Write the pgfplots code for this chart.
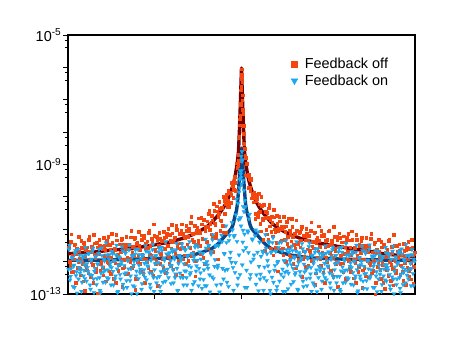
\documentclass[border=0pt]{standalone}
\usepackage{pgfplots}
\pgfplotsset{compat=1.18}
\usepackage{pgfplotstable}
\usepackage{fontspec}
\setmainfont{Liberation Sans}

\definecolor{offpt}{HTML}{F4470F}
\definecolor{onpt}{HTML}{1BA8EE}
\definecolor{offfit}{HTML}{780000}
\definecolor{onfit}{HTML}{0A4888}

% d = offset from the resonance, r = feedback off, b = feedback on
\pgfplotstableread{
d r b
-173 2.8e-12 5.8e-13
-172 9.8e-13 3.2e-12
-171 4.2e-12 3.5e-13
-170 4.7e-13 9.8e-14
-169 1.6e-12 1.3e-12
-168 1.2e-12 7.2e-13
-167 3.5e-12 1.6e-13
-166 2.2e-13 2.2e-12
-165 2.5e-12 4.9e-13
-164 6.6e-13 1.05e-12
-163 5.9e-12 2.9e-13
-162 1.26e-12 1.6e-12
-161 3.8e-13 5.5e-13
-160 2.75e-12 1.2e-13
-159 8.9e-13 1.3e-12
-158 3.9e-12 3.6e-13
-157 1.3e-13 7.9e-13
-156 2.3e-12 2.75e-12
-155 5.5e-13 2.5e-13
-154 2.1e-12 6.6e-13
-153 4.8e-12 1.8e-12
-152 1.2e-12 4.0e-13
-151 3.4e-13 1.4e-13
-150 2.9e-12 1.2e-12
-149 8.1e-13 2.1e-12
-148 6.9e-12 2.9e-13
-147 1.7e-12 5.0e-13
-146 4.8e-13 1.4e-12
-145 3.9e-12 1.95e-13
-144 1.07e-13 8.3e-13
-143 1.8e-12 1.8e-12
-142 3.2e-12 3.2e-13
-141 8.7e-13 1.1e-13
-140 2.9e-12 2.6e-12
-139 6.6e-13 6.9e-13
-138 5.4e-12 4.8e-13
-137 1.5e-12 1.05e-12
-136 2.5e-13 2.3e-13
-135 4.5e-12 1.6e-12
-134 1.5e-12 5.5e-13
-133 9.1e-13 3.0e-13
-132 3.3e-12 1.66e-12
-131 4.3e-13 9.1e-13
-130 7.4e-12 6.5e-13
-129 2.0e-12 1.74e-12
-128 1.1e-12 1.9e-13
-127 2.4e-12 1.05e-12
-126 2.3e-13 3.6e-13
-125 4.6e-12 3.2e-12
-124 1.5e-12 1.1e-13
-123 8.1e-13 7.6e-13
-122 3.5e-12 1.3e-12
-121 1.95e-12 2.9e-13
-120 5.2e-12 1.02e-12
-119 6.3e-13 2.2e-12
-118 1.15e-12 1.5e-13
-117 2.95e-12 4.2e-13
-116 4.1e-13 1.8e-12
-115 3.5e-12 2.6e-13
-114 2.45e-12 1.1e-12
-113 3.3e-12 6.0e-13
-112 1.26e-12 3.3e-12
-111 5.75e-12 3.6e-13
-110 6.6e-13 1.02e-13
-109 2.9e-12 1.4e-12
-108 1.55e-12 7.6e-13
-107 5.5e-12 1.66e-13
-106 2.95e-13 2.3e-12
-105 3.55e-12 5.1e-13
-104 1.02e-12 1.1e-12
-103 8.3e-12 3.0e-13
-102 2.3e-12 1.66e-12
-101 4.9e-13 5.8e-13
-100 4.9e-12 1.4e-13
-99 1.3e-12 1.5e-12
-98 6.3e-12 4.1e-13
-97 2.3e-13 8.9e-13
-96 3.7e-12 3.1e-12
-95 1.02e-12 2.75e-13
-94 2.75e-12 7.4e-13
-93 7.8e-12 2.0e-12
-92 1.66e-12 4.5e-13
-91 5.0e-13 1.55e-13
-90 5.1e-12 1.4e-12
-89 1.3e-12 2.35e-12
-88 1.45e-11 3.2e-13
-87 2.45e-12 5.6e-13
-86 8.7e-13 1.55e-12
-85 5.9e-12 2.2e-13
-84 1.8e-13 9.3e-13
-83 3.2e-12 2.0e-12
-82 5.2e-12 3.5e-13
-81 1.8e-12 1.2e-13
-80 4.4e-12 2.75e-12
-79 1.2e-12 7.4e-13
-78 8.3e-12 5.1e-13
-77 2.5e-12 1.1e-12
-76 4.6e-13 2.5e-13
-75 7.4e-12 1.74e-12
-74 3.2e-12 5.9e-13
-73 1.4e-12 3.2e-13
-72 6.9e-12 1.9e-12
-71 7.4e-13 1.05e-12
-70 1.4e-11 7.4e-13
-69 4.1e-12 2.0e-12
-68 2.1e-12 2.2e-13
-67 5.75e-12 1.2e-12
-66 3.9e-13 4.2e-13
-65 9.8e-12 3.7e-12
-64 2.6e-12 1.26e-13
-63 1.6e-12 8.7e-13
-62 7.2e-12 1.5e-12
-61 3.7e-12 3.3e-13
-60 1.45e-11 1.3e-12
-59 1.2e-12 2.75e-12
-58 2.75e-12 1.9e-13
-57 5.9e-12 5.2e-13
-56 8.9e-13 2.3e-12
-55 9.3e-12 3.2e-13
-54 6.0e-12 1.4e-12
-53 1.05e-11 7.6e-13
-52 2.8e-12 4.2e-12
-51 1.6e-11 4.6e-13
-50 1.5e-12 1.3e-13
-49 7.2e-12 1.74e-12
-48 4.2e-12 1.1e-12
-47 1.35e-11 2.4e-13
-46 1.1e-12 3.3e-12
-45 9.3e-12 7.4e-13
-44 3.3e-12 1.1e-12
-43 2.2e-11 1.8e-13
-42 7.8e-12 2.0e-12
-41 1.8e-12 4.5e-13
-40 1.45e-11 6.0e-14
-39 5.0e-12 1.8e-12
-38 1.95e-11 2.8e-13
-37 8.7e-13 8.9e-13
-36 1.2e-11 4.9e-12
-35 4.2e-12 1.8e-13
-34 1.2e-11 7.8e-13
-33 3.1e-11 3.1e-12
-32 9.8e-12 3.9e-13
-31 2.1e-12 8.5e-14
-30 2.6e-11 2.0e-12
-29 6.0e-12 4.7e-12
-28 6.3e-11 3.0e-13
-27 1.55e-11 7.1e-13
-26 5.5e-12 2.95e-12
-25 5.2e-11 1.9e-13
-24 1.2e-12 6.5e-13
-23 3.0e-11 3.1e-12
-22 4.4e-11 1.15e-13
-21 1.9e-11 1.4e-14
-20 4.7e-11 6.6e-12
-19 1.3e-11 6.2e-13
-18 1.0e-10 2.9e-13
-17 3.1e-11 1.74e-12
-16 7.9e-12 8.1e-14
-15 1.23e-10 3.9e-12
-14 7.6e-11 5.8e-13
-13 5.8e-11 1.7e-13
-12 1.4e-10 6.5e-12
-11 6.6e-11 1.95e-12
-10 2.75e-10 9.5e-13
-9 2.2e-10 9.5e-12
-8 1.7e-10 1.3e-13
-7 4.3e-10 6.5e-12
-6 1.55e-10 9.3e-13
-5 1.1e-9 8.5e-11
-4 1.1e-9 1.9e-13
-3.5 2.0e-9 6.3e-11
-3 1.3e-9 2.0e-11
-2.5 7.1e-9 1.6e-12
-2 1.66e-8 1.95e-10
-1.75 2.5e-8 3.5e-10
-1.5 3.2e-8 4.0e-13
-1.25 7.1e-8 6.3e-10
-1 7.9e-8 2.3e-11
-0.75 2.0e-7 5.0e-10
-0.5 2.5e-7 1.26e-11
-0.25 5.0e-7 1.8e-9
0 8.9e-7 6.5e-10
0.25 6.0e-7 2.5e-10
0.5 3.5e-7 1.26e-9
0.75 1.4e-7 7.9e-13
1 4.9e-8 1.4e-9
1.25 5.0e-8 4.0e-12
1.5 4.0e-8 3.2e-10
1.75 1.6e-8 5.0e-11
2 8.9e-9 2.2e-12
2.5 4.5e-9 1.6e-10
3 3.1e-9 7.1e-12
3.5 1.6e-9 1.6e-13
4 4.7e-10 5.0e-11
5 1.05e-9 5.4e-13
6 4.5e-10 8.9e-12
7 4.8e-10 1.9e-12
8 1.9e-10 2.9e-11
9 3.3e-10 4.0e-13
10 9.1e-11 2.4e-14
11 1.26e-10 4.7e-12
12 9.3e-11 1.2e-12
13 1.2e-10 5.9e-14
14 3.0e-11 9.5e-12
15 8.5e-11 3.9e-13
16 2.4e-11 1.95e-12
17 1.26e-10 1.26e-13
18 3.5e-11 4.0e-12
19 8.7e-12 4.1e-13
20 5.4e-11 1.7e-14
21 1.9e-11 2.1e-12
22 6.0e-11 1.3e-13
23 2.2e-12 6.8e-13
24 3.5e-11 6.8e-12
25 7.1e-12 2.6e-13
26 2.3e-11 1.07e-12
27 4.5e-11 4.1e-12
28 1.26e-11 4.9e-13
29 2.6e-12 1.02e-13
30 2.5e-11 2.0e-12
31 6.2e-12 3.9e-12
32 4.0e-11 2.3e-13
33 1.02e-11 5.4e-13
34 2.75e-12 2.1e-12
35 2.6e-11 1.3e-13
36 5.1e-13 9.3e-13
37 1.05e-11 2.7e-12
38 1.8e-11 2.5e-13
39 4.3e-12 5.4e-14
40 1.2e-11 4.0e-12
41 2.6e-12 5.9e-13
42 2.45e-11 3.4e-13
43 4.9e-12 1.07e-12
44 1.0e-12 1.2e-13
45 1.74e-11 2.35e-12
46 5.9e-12 7.9e-13
47 2.8e-12 4.4e-13
48 9.5e-12 2.4e-12
49 1.45e-12 1.15e-12
50 2.1e-11 8.1e-13
51 6.0e-12 2.2e-12
52 3.3e-12 2.4e-13
53 7.1e-12 1.3e-12
54 6.3e-13 4.6e-13
55 9.3e-12 4.1e-12
56 3.55e-12 1.4e-13
57 1.6e-12 9.5e-13
58 8.3e-12 1.66e-12
59 4.6e-12 3.6e-13
60 1.2e-11 1.3e-12
61 1.2e-12 2.5e-12
62 2.1e-12 1.7e-13
63 6.3e-12 4.8e-13
64 7.2e-13 2.1e-12
65 7.4e-12 3.0e-13
66 4.6e-12 1.26e-12
67 6.2e-12 6.9e-13
68 2.2e-12 3.8e-12
69 9.3e-12 4.2e-13
70 1.1e-12 1.2e-13
71 4.1e-12 1.6e-12
72 2.6e-12 8.7e-13
73 8.1e-12 1.8e-13
74 4.4e-13 2.45e-12
75 4.9e-12 5.5e-13
76 1.3e-12 1.2e-12
77 1.26e-11 3.2e-13
78 2.9e-12 1.8e-12
79 7.4e-13 6.2e-13
80 6.5e-12 1.4e-13
81 1.55e-12 1.5e-12
82 6.9e-12 4.1e-13
83 2.3e-13 8.9e-13
84 4.5e-12 3.1e-12
85 1.02e-12 2.75e-13
86 3.2e-12 7.4e-13
87 8.7e-12 2.0e-12
88 1.9e-12 4.5e-13
89 5.2e-13 1.55e-13
90 4.5e-12 1.4e-12
91 1.35e-12 2.35e-12
92 1.2e-11 3.2e-13
93 2.5e-12 5.6e-13
94 8.7e-13 1.55e-12
95 5.9e-12 2.2e-13
96 1.66e-13 9.3e-13
97 2.8e-12 2.0e-12
98 5.4e-12 3.5e-13
99 1.55e-12 1.2e-13
100 4.0e-12 2.75e-12
101 9.1e-13 6.9e-13
102 6.2e-12 4.8e-13
103 1.74e-12 1.05e-12
104 2.95e-13 2.3e-13
105 5.6e-12 1.6e-12
106 2.0e-12 5.5e-13
107 1.05e-12 3.0e-13
108 4.6e-12 1.66e-12
109 4.9e-13 9.1e-13
110 8.7e-12 6.5e-13
111 1.95e-12 1.74e-12
112 1.17e-12 1.9e-13
113 2.7e-12 1.05e-12
114 2.2e-13 3.6e-13
115 4.8e-12 3.2e-12
116 1.3e-12 1.1e-13
117 7.2e-13 7.6e-13
118 3.1e-12 1.3e-12
119 1.9e-12 2.9e-13
120 5.4e-12 1.02e-12
121 5.5e-13 2.2e-12
122 1.2e-12 1.5e-13
123 2.6e-12 4.2e-13
124 3.6e-13 1.8e-12
125 3.1e-12 2.6e-13
126 2.0e-12 1.1e-12
127 2.9e-12 6.0e-13
128 9.3e-13 3.3e-12
129 5.1e-12 3.6e-13
130 4.4e-13 9.8e-14
131 1.95e-12 1.3e-12
132 1.05e-12 7.2e-13
133 4.0e-12 1.6e-13
134 2.3e-13 2.2e-12
135 2.35e-12 4.9e-13
136 7.2e-13 1.05e-12
137 4.9e-12 2.9e-13
138 1.4e-12 1.6e-12
139 2.95e-13 5.5e-13
140 2.8e-12 1.2e-13
141 8.1e-13 1.3e-12
142 3.3e-12 3.6e-13
143 1.45e-13 7.9e-13
144 1.95e-12 2.75e-12
145 5.5e-13 2.5e-13
146 1.5e-12 6.6e-13
147 4.5e-12 1.8e-12
148 1.02e-12 4.0e-13
149 2.6e-13 1.4e-13
150 2.9e-12 1.2e-12
151 6.2e-13 2.1e-12
152 6.9e-12 2.9e-13
153 1.17e-12 5.0e-13
154 4.5e-13 1.4e-12
155 3.2e-12 1.95e-13
156 7.4e-14 8.3e-13
157 1.6e-12 1.8e-12
158 2.2e-12 3.2e-13
159 7.8e-13 1.1e-13
160 1.66e-12 2.45e-12
161 5.0e-13 6.6e-13
162 3.6e-12 4.6e-13
163 9.3e-13 1.0e-12
164 2.0e-13 2.2e-13
165 2.75e-12 1.55e-12
166 1.2e-12 5.2e-13
167 5.2e-13 2.9e-13
168 2.5e-12 1.6e-12
169 2.9e-13 8.7e-13
170 4.7e-12 6.2e-13
171 1.6e-12 1.66e-12
172 6.9e-13 1.8e-13
173 1.95e-12 1.0e-12
}\noiseA

% second sweep, taken between the points of the first
\pgfplotstableread{
d r b
-172.5 2.7e-12 2.35e-12
-171.5 7.6e-13 2.7e-13
-170.5 7.1e-12 6.0e-13
-169.5 1.3e-12 1.3e-12
-168.5 5.0e-13 1.7e-13
-167.5 3.4e-12 7.8e-13
-166.5 9.5e-14 1.8e-12
-165.5 1.8e-12 3.7e-13
-164.5 2.6e-12 1.07e-13
-163.5 1.0e-12 2.4e-12
-162.5 2.1e-12 6.5e-13
-161.5 6.0e-13 4.4e-13
-160.5 4.5e-12 9.8e-13
-159.5 1.02e-12 2.3e-13
-158.5 2.5e-13 1.5e-12
-157.5 3.4e-12 5.4e-13
-156.5 1.5e-12 3.0e-13
-155.5 7.1e-13 1.6e-12
-154.5 2.8e-12 8.7e-13
-153.5 4.4e-13 4.9e-13
-152.5 5.9e-12 1.8e-12
-151.5 2.1e-12 1.9e-13
-150.5 9.8e-13 1.07e-12
-149.5 2.2e-12 3.8e-13
-148.5 2.2e-13 2.6e-12
-147.5 3.7e-12 1.1e-13
-146.5 1.3e-12 6.2e-13
-145.5 6.2e-13 1.45e-12
-144.5 2.8e-12 3.0e-13
-143.5 1.74e-12 8.5e-13
-142.5 4.7e-12 2.4e-12
-141.5 5.2e-13 1.3e-13
-140.5 9.8e-13 4.4e-13
-139.5 2.45e-12 1.55e-12
-138.5 3.8e-13 2.3e-13
-137.5 3.2e-12 1.17e-12
-136.5 2.3e-12 5.4e-13
-135.5 3.4e-12 3.8e-12
-134.5 9.8e-13 3.2e-13
-133.5 6.0e-12 8.7e-14
-132.5 5.1e-13 1.2e-12
-131.5 2.3e-12 7.2e-13
-130.5 1.35e-12 1.9e-13
-129.5 3.9e-12 2.1e-12
-128.5 3.0e-13 5.0e-13
-127.5 2.6e-12 1.07e-12
-126.5 9.1e-13 2.9e-13
-125.5 6.8e-12 1.6e-12
-124.5 1.7e-12 6.0e-13
-123.5 5.2e-13 1.2e-13
-122.5 3.5e-12 1.4e-12
-121.5 1.26e-12 4.0e-13
-120.5 4.7e-12 8.5e-13
-119.5 1.7e-13 2.9e-12
-118.5 3.3e-12 2.0e-13
-117.5 7.1e-13 7.6e-13
-116.5 2.5e-12 1.95e-12
-115.5 5.9e-12 4.5e-13
-114.5 1.35e-12 1.6e-13
-113.5 4.2e-13 1.07e-12
-112.5 3.5e-12 2.3e-12
-111.5 1.0e-12 2.6e-13
-110.5 9.3e-12 6.0e-13
-109.5 1.9e-12 1.55e-12
-108.5 7.4e-13 1.8e-13
-107.5 5.0e-12 1.0e-12
-106.5 1.4e-13 1.7e-12
-105.5 2.6e-12 3.6e-13
-104.5 3.8e-12 1.02e-13
-103.5 1.5e-12 2.4e-12
-102.5 3.2e-12 7.8e-13
-101.5 8.9e-13 4.5e-13
-100.5 6.6e-12 1.26e-12
-99.5 1.7e-12 2.1e-13
-98.5 4.2e-13 1.6e-12
-97.5 5.6e-12 5.6e-13
-96.5 2.5e-12 3.3e-13
-95.5 1.17e-12 2.1e-12
-94.5 4.3e-12 9.8e-13
-93.5 6.6e-13 6.9e-13
-92.5 8.9e-12 1.9e-12
-91.5 3.2e-12 2.0e-13
-90.5 1.5e-12 1.1e-12
-89.5 3.8e-12 4.2e-13
-88.5 3.7e-13 3.4e-12
-87.5 6.3e-12 1.2e-13
-86.5 2.2e-12 8.7e-13
-85.5 1.05e-12 1.5e-12
-84.5 4.8e-12 3.2e-13
-83.5 2.95e-12 8.9e-13
-82.5 7.9e-12 2.6e-12
-81.5 8.9e-13 1.7e-13
-80.5 1.66e-12 4.9e-13
-79.5 4.3e-12 2.2e-12
-78.5 6.6e-13 2.3e-13
-77.5 5.6e-12 1.26e-12
-76.5 4.0e-12 5.6e-13
-75.5 5.9e-12 4.2e-12
-74.5 1.7e-12 4.3e-13
-73.5 1.05e-11 9.8e-14
-72.5 8.9e-13 1.74e-12
-71.5 4.5e-12 7.8e-13
-70.5 2.6e-12 2.1e-13
-69.5 7.6e-12 2.35e-12
-68.5 5.9e-13 5.5e-13
-67.5 5.0e-12 1.4e-12
-66.5 1.8e-12 3.2e-13
-65.5 1.3e-11 2.3e-12
-64.5 3.4e-12 6.2e-13
-63.5 1.05e-12 1.3e-13
-62.5 7.1e-12 1.5e-12
-61.5 2.5e-12 4.4e-13
-60.5 9.3e-12 1.1e-12
-59.5 3.8e-13 3.5e-12
-58.5 7.4e-12 3.2e-13
-57.5 1.6e-12 8.5e-13
-56.5 5.6e-12 2.3e-12
-55.5 1.3e-11 5.1e-13
-54.5 3.5e-12 1.9e-13
-53.5 1.07e-12 1.55e-12
-52.5 9.1e-12 2.8e-12
-51.5 2.6e-12 4.0e-13
-50.5 2.4e-11 6.8e-13
-49.5 4.9e-12 1.8e-12
-48.5 1.9e-12 2.0e-13
-47.5 1.3e-11 1.4e-12
-46.5 3.6e-13 2.8e-12
-45.5 7.9e-12 5.1e-13
-44.5 1.15e-11 5.1e-14
-43.5 4.5e-12 2.9e-12
-42.5 9.5e-12 6.2e-13
-41.5 3.1e-12 2.9e-13
-40.5 2.3e-11 1.2e-12
-39.5 5.2e-12 1.5e-13
-38.5 1.3e-12 1.8e-12
-37.5 2.0e-11 5.6e-13
-36.5 8.9e-12 1.8e-13
-35.5 4.2e-12 2.6e-12
-34.5 1.8e-11 1.0e-12
-33.5 2.75e-12 6.2e-13
-32.5 3.7e-11 3.2e-12
-31.5 1.5e-11 1.15e-13
-30.5 7.1e-12 1.7e-12
-29.5 1.9e-11 3.4e-13
-28.5 2.0e-12 6.9e-12
-27.5 3.7e-11 7.1e-14
-26.5 1.4e-11 1.15e-12
-25.5 7.2e-12 3.2e-12
-24.5 3.6e-11 6.5e-14
-23.5 2.4e-11 7.8e-13
-22.5 7.1e-11 4.6e-12
-21.5 8.9e-12 2.1e-14
-20.5 1.8e-11 2.0e-13
-19.5 4.6e-11 4.1e-12
-18.5 7.9e-12 7.1e-14
-17.5 7.6e-11 1.8e-12
-16.5 6.0e-11 5.4e-13
-15.5 1.02e-10 1.26e-11
-14.5 4.8e-11 2.3e-13
-13.5 1.55e-10 1.4e-14
-12.5 4.9e-11 4.5e-12
-11.5 1.3e-10 1.26e-12
-10.5 1.17e-10 7.9e-14
-9.5 2.4e-10 1.6e-11
-8.5 9.3e-11 6.6e-13
-7.5 3.3e-10 5.9e-12
-6.5 2.8e-10 4.6e-13
-5.5 1.1e-9 2.8e-11
-4.5 8.1e-10 4.2e-12
-3.5 8.9e-10 3.1e-13
-2.5 6.8e-9 1.4e-10
-1.5 2.7e-8 2.1e-11
-0.5 4.4e-7 3.9e-10
0.5 9.8e-8 2.5e-9
1.5 3.8e-8 9.3e-12
2.5 3.0e-9 3.5e-11
3.5 1.9e-9 7.8e-11
4.5 1.6e-9 2.7e-12
5.5 4.6e-10 1.6e-13
6.5 1.9e-10 8.1e-12
7.5 3.7e-10 2.1e-11
8.5 1.6e-10 3.0e-13
9.5 3.7e-10 9.8e-13
10.5 1.2e-10 5.0e-12
11.5 6.9e-11 8.1e-14
12.5 1.4e-10 1.6e-12
13.5 2.1e-11 6.3e-12
14.5 7.4e-11 2.0e-13
15.5 9.3e-11 2.2e-14
16.5 3.2e-11 8.3e-12
17.5 6.0e-11 7.1e-13
18.5 1.5e-11 2.9e-13
19.5 1.0e-10 1.45e-12
20.5 2.1e-11 5.6e-14
21.5 4.7e-12 1.9e-12
22.5 5.6e-11 3.2e-13
23.5 2.3e-11 7.6e-14
24.5 1.0e-11 2.6e-12
25.5 3.3e-11 1.74e-12
26.5 4.7e-12 7.4e-13
27.5 5.9e-11 3.8e-12
28.5 1.9e-11 1.3e-13
29.5 8.3e-12 1.9e-12
30.5 1.6e-11 3.3e-13
31.5 1.6e-12 5.5e-12
32.5 2.35e-11 6.8e-14
33.5 8.3e-12 7.6e-13
34.5 3.9e-12 2.1e-12
35.5 1.5e-11 1.7e-13
36.5 9.3e-12 1.02e-12
37.5 2.5e-11 3.8e-12
38.5 2.45e-12 7.2e-14
39.5 4.6e-12 4.1e-13
40.5 1.05e-11 2.1e-12
41.5 1.6e-12 1.2e-13
42.5 1.2e-11 1.05e-12
43.5 8.5e-12 4.7e-13
44.5 1.26e-11 4.5e-12
45.5 3.6e-12 5.1e-13
46.5 2.2e-11 1.45e-13
47.5 1.6e-12 1.95e-12
48.5 7.2e-12 1.05e-12
49.5 4.3e-12 2.0e-13
50.5 1.2e-11 3.0e-12
51.5 8.5e-13 6.2e-13
52.5 7.2e-12 1.4e-12
53.5 2.6e-12 4.0e-13
54.5 1.9e-11 2.1e-12
55.5 3.8e-12 7.2e-13
56.5 1.17e-12 1.3e-13
57.5 7.9e-12 1.9e-12
58.5 2.8e-12 4.9e-13
59.5 1.05e-11 1.1e-12
60.5 3.4e-13 3.6e-12
61.5 6.6e-12 2.5e-13
62.5 1.4e-12 8.3e-13
63.5 4.6e-12 1.9e-12
64.5 1.07e-11 5.5e-13
65.5 2.45e-12 1.8e-13
66.5 7.4e-13 1.3e-12
67.5 6.3e-12 2.9e-12
68.5 1.8e-12 3.1e-13
69.5 1.66e-11 6.6e-13
70.5 3.0e-12 1.5e-12
71.5 1.17e-12 2.2e-13
72.5 7.9e-12 1.1e-12
73.5 2.0e-13 1.95e-12
74.5 3.7e-12 4.4e-13
75.5 5.4e-12 1.17e-13
76.5 2.1e-12 2.5e-12
77.5 4.5e-12 7.1e-13
78.5 1.26e-12 5.2e-13
79.5 9.3e-12 1.35e-12
80.5 1.9e-12 2.5e-13
81.5 4.7e-13 1.74e-12
82.5 6.3e-12 5.9e-13
83.5 2.8e-12 3.2e-13
84.5 1.3e-12 1.8e-12
85.5 4.8e-12 1.05e-12
86.5 7.1e-13 6.8e-13
87.5 9.5e-12 1.95e-12
88.5 3.4e-12 2.2e-13
89.5 1.6e-12 1.17e-12
90.5 3.6e-12 4.0e-13
91.5 3.5e-13 2.8e-12
92.5 6.0e-12 1.3e-13
93.5 2.1e-12 8.5e-13
94.5 1.0e-12 1.55e-12
95.5 4.6e-12 3.5e-13
96.5 2.8e-12 9.3e-13
97.5 7.6e-12 2.5e-12
98.5 8.5e-13 1.4e-13
99.5 1.6e-12 5.2e-13
100.5 3.0e-12 1.95e-12
101.5 4.7e-13 2.2e-13
102.5 4.0e-12 1.26e-12
103.5 2.8e-12 5.4e-13
104.5 4.2e-12 3.6e-12
105.5 1.2e-12 3.2e-13
106.5 7.4e-12 9.5e-14
107.5 6.3e-13 1.55e-12
108.5 2.8e-12 7.1e-13
109.5 1.66e-12 2.0e-13
110.5 4.8e-12 2.1e-12
111.5 3.1e-13 4.6e-13
112.5 2.6e-12 1.02e-12
113.5 9.3e-13 3.0e-13
114.5 6.9e-12 1.95e-12
115.5 1.6e-12 5.6e-13
116.5 4.9e-13 1.26e-13
117.5 3.3e-12 1.35e-12
118.5 1.17e-12 3.6e-13
119.5 4.4e-12 8.1e-13
120.5 1.6e-13 3.0e-12
121.5 3.1e-12 2.5e-13
122.5 6.6e-13 7.1e-13
123.5 2.35e-12 2.0e-12
124.5 5.5e-12 4.3e-13
125.5 1.07e-12 1.45e-13
126.5 3.3e-13 1.02e-12
127.5 2.8e-12 2.4e-12
128.5 7.9e-13 3.1e-13
129.5 7.4e-12 5.6e-13
130.5 1.35e-12 1.5e-12
131.5 5.2e-13 1.6e-13
132.5 3.5e-12 8.7e-13
133.5 1.0e-13 1.55e-12
134.5 1.86e-12 3.6e-13
135.5 2.4e-12 1.17e-13
136.5 9.3e-13 2.1e-12
137.5 2.0e-12 7.6e-13
138.5 5.6e-13 4.1e-13
139.5 4.2e-12 1.1e-12
140.5 9.5e-13 1.95e-13
141.5 2.3e-13 1.45e-12
142.5 3.2e-12 5.9e-13
143.5 1.4e-12 2.7e-13
144.5 6.6e-13 1.9e-12
145.5 2.4e-12 8.1e-13
146.5 3.7e-13 5.5e-13
147.5 5.0e-12 1.55e-12
148.5 1.8e-12 1.8e-13
149.5 8.3e-13 1.17e-12
150.5 1.9e-12 3.4e-13
151.5 1.9e-13 3.0e-12
152.5 3.2e-12 1.02e-13
153.5 1.1e-12 6.9e-13
154.5 5.2e-13 1.2e-12
155.5 2.1e-12 2.9e-13
156.5 1.3e-12 9.3e-13
157.5 3.5e-12 2.1e-12
158.5 4.0e-13 1.5e-13
159.5 7.4e-13 4.1e-13
160.5 1.7e-12 1.74e-12
161.5 2.6e-13 1.95e-13
162.5 2.2e-12 1.15e-12
163.5 1.6e-12 5.9e-13
164.5 2.35e-12 3.4e-12
165.5 6.8e-13 3.8e-13
166.5 4.2e-12 8.1e-14
167.5 3.5e-13 1.4e-12
168.5 1.6e-12 6.2e-13
169.5 9.3e-13 1.8e-13
170.5 2.7e-12 2.35e-12
171.5 2.1e-13 4.3e-13
172.5 1.8e-12 1.2e-12
}\noiseB

\begin{document}
\begin{tikzpicture}
\useasboundingbox (0,0) rectangle (463bp,348bp);
\begin{axis}[
    at={(68bp,54bp)}, anchor=south west,
    scale only axis, width=347bp, height=259bp,
    ymode=log,
    xmin=-173.5, xmax=173.5,
    ymin=1e-13, ymax=1e-5,
    xtick={-86.75,0,86.75}, xticklabels={},
    ytick={1e-13,1e-12,1e-11,1e-10,1e-9,1e-8,1e-7,1e-6,1e-5},
    yticklabels={10\textsuperscript{-13},,,,10\textsuperscript{-9},,,,10\textsuperscript{-5}},
    minor ytick={4e-13,7e-13,4e-12,7e-12,4e-11,7e-11,4e-10,7e-10,4e-9,7e-9,4e-8,7e-8,4e-7,7e-7,4e-6,7e-6},
    tick align=outside, xtick pos=bottom, ytick pos=left,
    major tick length=5bp, minor tick length=3bp,
    every tick/.style={black, line width=0.9pt},
    axis line style={line width=1.1pt},
    yticklabel style={font=\fontsize{14.5}{17}\selectfont, inner sep=1.5pt},
    legend style={at={(0.634,0.926)}, anchor=north west, draw=none, fill=none,
        font=\fontsize{14.5}{17}\selectfont, row sep=0.5pt},
    legend cell align=left,
]
\addlegendimage{only marks, mark=square*, mark size=2.8bp, color=offpt}
\addlegendentry{\hspace{5bp}Feedback off}
\addlegendimage{only marks, mark=triangle*, mark size=3.8bp, mark options={rotate=180}, color=onpt}
\addlegendentry{\hspace{5bp}Feedback on}

% feedback off first, feedback on drawn over it
\addplot[forget plot, only marks, color=offpt, mark=square*, mark size=1.35bp,
    mark options={line width=0.2pt}] table[x=d, y=r] {\noiseA};
\addplot[forget plot, only marks, color=offpt, mark=square*, mark size=1.35bp,
    mark options={line width=0.2pt}] table[x=d, y=r] {\noiseB};
\addplot[forget plot, only marks, color=onpt, mark=triangle*, mark size=2.4bp,
    mark options={rotate=180, line width=0.2pt}] table[x=d, y=b] {\noiseA};
\addplot[forget plot, only marks, color=onpt, mark=triangle*, mark size=2.4bp,
    mark options={rotate=180, line width=0.2pt}] table[x=d, y=b] {\noiseB};

% fitted curves
\addplot[forget plot, onfit, line width=3.4bp, line join=round] coordinates {
(-173.5,1.1e-12) (-140,1.12e-12) (-100,1.2e-12) (-72,1.29e-12) (-60,1.41e-12) (-48,1.62e-12)
(-40,1.9e-12) (-35,2.2e-12) (-30,2.5e-12) (-25,3.2e-12) (-22,4.0e-12) (-20,4.7e-12)
(-18,5.5e-12) (-16,6.5e-12) (-14,7.6e-12) (-12,8.9e-12) (-10,1.07e-11) (-9,1.26e-11)
(-8,1.58e-11) (-7,2.24e-11) (-6,2.95e-11) (-5,3.8e-11) (-4,6.3e-11) (-3,1.55e-10)
(-2,4.3e-10) (-1,1.17e-9) (0,3.2e-9) (1,1.17e-9) (2,4.3e-10) (3,1.55e-10)
(4,6.3e-11) (5,3.8e-11) (6,2.95e-11) (7,2.24e-11) (8,1.58e-11) (9,1.26e-11)
(10,1.07e-11) (12,8.9e-12) (14,7.6e-12) (16,6.5e-12) (18,5.5e-12) (20,4.7e-12)
(22,4.0e-12) (25,3.2e-12) (30,2.5e-12) (35,2.2e-12) (40,1.9e-12) (48,1.62e-12)
(60,1.41e-12) (72,1.29e-12) (100,1.2e-12) (140,1.12e-12) (173.5,1.1e-12)
};
\addplot[forget plot, offfit, line width=3.4bp, line join=round] coordinates {
(-173.5,1.74e-12) (-160,1.9e-12) (-140,2.1e-12) (-125,2.35e-12) (-110,2.5e-12) (-90,3.2e-12)
(-72,4.0e-12) (-60,5.1e-12) (-50,6.6e-12) (-42,8.7e-12) (-35,1.17e-11) (-30,1.58e-11)
(-26,2.2e-11) (-23,2.8e-11) (-20,3.8e-11) (-18,4.7e-11) (-16,6.0e-11) (-14,7.9e-11)
(-12,1.12e-10) (-10,1.66e-10) (-9,2.1e-10) (-8,2.7e-10) (-7,3.5e-10) (-6,5.0e-10)
(-5,7.9e-10) (-4,1.26e-9) (-3,2.5e-9) (-2,1.26e-8) (-1,1.0e-7) (0,9.5e-7)
(1,1.0e-7) (2,1.26e-8) (3,2.5e-9) (4,1.26e-9) (5,7.9e-10) (6,5.0e-10)
(7,3.5e-10) (8,2.7e-10) (9,2.1e-10) (10,1.66e-10) (12,1.12e-10) (14,7.9e-11)
(16,6.0e-11) (18,4.7e-11) (20,3.8e-11) (23,2.8e-11) (26,2.2e-11) (30,1.58e-11)
(35,1.17e-11) (42,8.7e-12) (50,6.6e-12) (60,5.1e-12) (72,4.0e-12) (90,3.2e-12)
(110,2.5e-12) (125,2.2e-12) (140,1.78e-12) (155,1.58e-12) (173.5,1.41e-12)
};
\end{axis}
\end{tikzpicture}
\end{document}
